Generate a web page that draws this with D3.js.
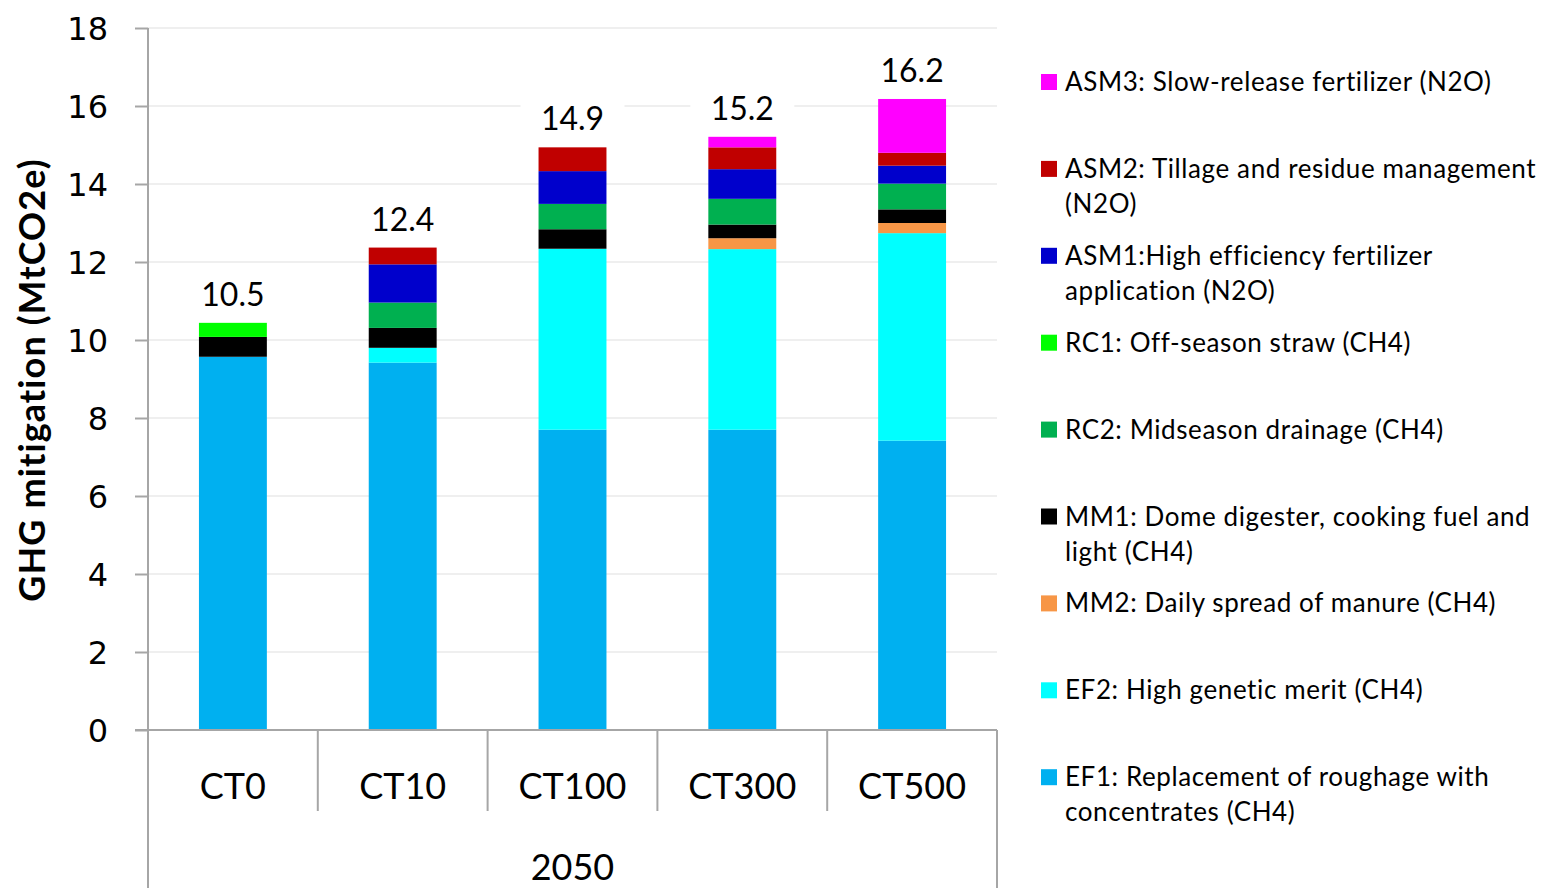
<!DOCTYPE html>
<html>
<head>
<meta charset="utf-8">
<script src="https://cdn.jsdelivr.net/npm/d3@7"></script>
<style>
  html, body { margin: 0; padding: 0; background: #fff; }
  svg { display: block; }
</style>
</head>
<body>
<svg id="chart" width="1541" height="888"></svg>
<script>
// ---- data ----
const categories = ["CT0", "CT10", "CT100", "CT300", "CT500"];
const groupLabel = "2050";
const EF1  = [9.57, 9.42, 7.70, 7.70, 7.42];
const EF2  = [0.00, 0.38, 4.64, 4.63, 5.32];
const MM2  = [0.00, 0.00, 0.00, 0.28, 0.26];
const MM1  = [0.51, 0.51, 0.50, 0.35, 0.35];
const RC2  = [0.00, 0.65, 0.65, 0.66, 0.66];
const RC1  = [0.36, 0.00, 0.00, 0.00, 0.00];
const ASM1 = [0.00, 0.98, 0.84, 0.76, 0.46];
const ASM2 = [0.00, 0.43, 0.61, 0.56, 0.33];
const ASM3 = [0.00, 0.00, 0.00, 0.27, 1.38];
const totalLabels = ["10.5", "12.4", "14.9", "15.2", "16.2"];
const yTicks = [0, 2, 4, 6, 8, 10, 12, 14, 16, 18];

const seriesKeys = ["EF1", "EF2", "MM2", "MM1", "RC2", "RC1", "ASM1", "ASM2", "ASM3"];
const seriesValues = { EF1, EF2, MM2, MM1, RC2, RC1, ASM1, ASM2, ASM3 };
const seriesNames = {
  ASM3: ["ASM3: Slow-release fertilizer (N2O)"],
  ASM2: ["ASM2: Tillage and residue management", "(N2O)"],
  ASM1: ["ASM1:High efficiency fertilizer", "application (N2O)"],
  RC1:  ["RC1: Off-season straw (CH4)"],
  RC2:  ["RC2: Midseason drainage (CH4)"],
  MM1:  ["MM1: Dome digester, cooking fuel and", "light (CH4)"],
  MM2:  ["MM2: Daily spread of manure (CH4)"],
  EF2:  ["EF2: High genetic merit (CH4)"],
  EF1:  ["EF1: Replacement of roughage with", "concentrates (CH4)"]
};
const colors = {
  EF1: "#00B0F0", EF2: "#00FFFF", MM2: "#F79646", MM1: "#000000",
  RC2: "#00B050", RC1: "#00FF00", ASM1: "#0000CC", ASM2: "#C00000", ASM3: "#FF00FF"
};

// ---- layout ----
const svg = d3.select("#chart");
const plot = { left: 148, right: 997, top: 28, bottom: 730 };
const axisColor = "#A6A6A6";
const gridColor = "#EFEFEF";
const labelFont = "Lato, 'Open Sans', sans-serif";

const x = d3.scaleBand().domain(categories)
  .range([plot.left, plot.right]).paddingInner(0.6).paddingOuter(0.3);
const y = d3.scaleLinear().domain([0, 18]).range([plot.bottom, plot.top]);

const table = categories.map((c, i) => {
  const row = { cat: c };
  seriesKeys.forEach(k => row[k] = seriesValues[k][i]);
  return row;
});
const stacked = d3.stack().keys(seriesKeys)(table);

// gridlines
svg.append("g").selectAll("line").data(yTicks.filter(t => t > 0)).join("line")
  .attr("x1", plot.left).attr("x2", plot.right)
  .attr("y1", d => y(d)).attr("y2", d => y(d))
  .attr("stroke", gridColor).attr("stroke-width", 2);

// label background boxes (hide gridlines behind labels)
const labelOffset = 17;
svg.append("g").selectAll("rect").data(categories).join("rect")
  .attr("x", d => x(d) + x.bandwidth() / 2 - 52)
  .attr("width", 104)
  .attr("y", (d, i) => y(d3.sum(seriesKeys, k => seriesValues[k][i])) - labelOffset - 34)
  .attr("height", 44)
  .attr("fill", "#fff");

// bars
svg.append("g").selectAll("g").data(stacked).join("g")
  .attr("fill", d => colors[d.key])
  .selectAll("rect").data(d => d).join("rect")
  .attr("x", d => x(d.data.cat))
  .attr("width", x.bandwidth())
  .attr("y", d => y(d[1]))
  .attr("height", d => Math.max(0, y(d[0]) - y(d[1])));

// total labels
svg.append("g").selectAll("text").data(categories).join("text")
  .attr("x", d => x(d) + x.bandwidth() / 2)
  .attr("y", (d, i) => y(d3.sum(seriesKeys, k => seriesValues[k][i])) - labelOffset)
  .attr("text-anchor", "middle")
  .attr("font-family", labelFont).attr("font-size", 32).attr("fill", "#000")
  .text((d, i) => totalLabels[i]);

// y axis
const yAxis = d3.axisLeft(y).tickValues(yTicks).tickSize(13).tickPadding(27);
const gy = svg.append("g").attr("transform", `translate(${plot.left},0)`).call(yAxis);
gy.select(".domain").remove();
gy.selectAll(".tick line").attr("stroke", axisColor).attr("stroke-width", 2);
gy.selectAll(".tick text").attr("font-family", "'DejaVu Sans', Verdana, sans-serif")
  .attr("font-size", 32).attr("fill", "#000").attr("dy", "0.36em");
svg.append("line").attr("x1", plot.left).attr("x2", plot.left)
  .attr("y1", plot.top).attr("y2", 888)
  .attr("stroke", axisColor).attr("stroke-width", 2);

// x axis (baseline + category separators)
svg.append("line").attr("x1", 135).attr("x2", plot.right)
  .attr("y1", plot.bottom).attr("y2", plot.bottom)
  .attr("stroke", axisColor).attr("stroke-width", 2);
const step = x.step();
const seps = categories.slice(1).map(c => x(c) - (step - x.bandwidth()) / 2);
svg.append("g").selectAll("line").data(seps).join("line")
  .attr("x1", d => d).attr("x2", d => d)
  .attr("y1", plot.bottom).attr("y2", 811)
  .attr("stroke", axisColor).attr("stroke-width", 2);
svg.append("line").attr("x1", plot.right).attr("x2", plot.right)
  .attr("y1", plot.bottom).attr("y2", 888)
  .attr("stroke", axisColor).attr("stroke-width", 2);

svg.append("g").selectAll("text").data(categories).join("text")
  .attr("x", d => x(d) + x.bandwidth() / 2)
  .attr("y", 799)
  .attr("text-anchor", "middle")
  .attr("font-family", labelFont).attr("font-size", 36).attr("fill", "#000")
  .text(d => d);
svg.append("text").attr("x", (plot.left + plot.right) / 2).attr("y", 880)
  .attr("text-anchor", "middle")
  .attr("font-family", labelFont).attr("font-size", 36).attr("fill", "#000")
  .text(groupLabel);

// y axis title
svg.append("text")
  .attr("transform", `translate(45,380) rotate(-90)`)
  .attr("text-anchor", "middle")
  .attr("font-family", labelFont).attr("font-weight", "bold")
  .attr("font-size", 36).attr("letter-spacing", 1.1).attr("fill", "#000")
  .text("GHG mitigation (MtCO2e)");

// legend
const legendOrder = seriesKeys.slice().reverse();
const lg = svg.append("g").selectAll("g").data(legendOrder).join("g")
  .attr("transform", (d, i) => `translate(1041, ${82 + i * 86.9})`);
lg.append("rect").attr("x", 0).attr("y", -8).attr("width", 16).attr("height", 16)
  .attr("fill", d => colors[d]);
lg.append("text")
  .attr("font-family", labelFont).attr("font-size", 26).attr("letter-spacing", 0.6)
  .attr("fill", "#000")
  .selectAll("tspan").data(d => seriesNames[d]).join("tspan")
  .attr("x", 24).attr("y", (d, i) => 9 + i * 35)
  .text(d => d);
</script>
</body>
</html>
